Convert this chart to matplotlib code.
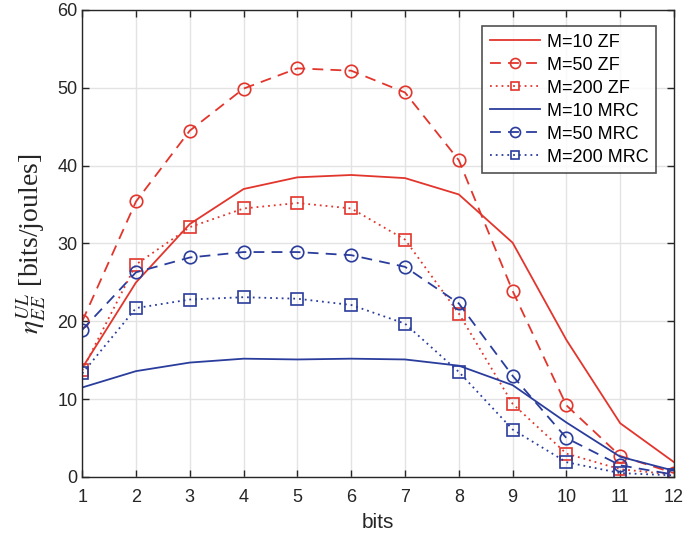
import matplotlib
matplotlib.use("Agg")
import matplotlib.pyplot as plt

bits = [1, 2, 3, 4, 5, 6, 7, 8, 9, 10, 11, 12]
zf10 = [14.0, 25.0, 32.5, 37.0, 38.5, 38.8, 38.4, 36.3, 30.1, 17.6, 6.9, 1.9]
zf50 = [20.0, 35.4, 44.5, 49.9, 52.5, 52.2, 49.4, 40.7, 23.9, 9.2, 2.7, 0.5]
zf200 = [13.7, 27.3, 32.1, 34.5, 35.2, 34.5, 30.5, 21.0, 9.4, 3.0, 1.0, 0.3]
mrc10 = [11.5, 13.6, 14.7, 15.2, 15.1, 15.2, 15.1, 14.3, 11.8, 7.0, 2.6, 0.8]
mrc50 = [18.9, 26.3, 28.2, 28.9, 28.9, 28.5, 27.0, 22.3, 13.0, 5.0, 1.5, 0.3]
mrc200 = [13.3, 21.7, 22.8, 23.1, 22.9, 22.1, 19.7, 13.5, 6.1, 1.9, 0.5, 0.2]
labels = ["M=10 ZF", "M=50 ZF", "M=200 ZF", "M=10 MRC", "M=50 MRC", "M=200 MRC"]

red = "#E2352C"
blue = "#2A3D9C"

plt.rcParams['font.family'] = ['Liberation Sans', 'DejaVu Sans']
plt.rcParams['mathtext.fontset'] = 'stix'

fig = plt.figure(figsize=(6.85, 5.4), dpi=100)
ax = fig.add_axes([0.12, 0.1167, 0.864, 0.8648])

lw = 1.3
ms = 9
ax.plot(bits, zf10, color=red, ls='-', lw=lw, label=labels[0])
ax.plot(bits, zf50, color=red, ls=(0, (6, 4)), lw=lw, marker='o', ms=ms,
        mfc='none', mec=red, mew=1.2, label=labels[1])
ax.plot(bits, zf200, color=red, ls=(0, (1, 2.2)), lw=lw, marker='s', ms=ms-1,
        mfc='none', mec=red, mew=1.2, label=labels[2])
ax.plot(bits, mrc10, color=blue, ls='-', lw=lw, label=labels[3])
ax.plot(bits, mrc50, color=blue, ls=(0, (6, 4)), lw=lw, marker='o', ms=ms,
        mfc='none', mec=blue, mew=1.2, label=labels[4])
ax.plot(bits, mrc200, color=blue, ls=(0, (1, 2.2)), lw=lw, marker='s', ms=ms-1,
        mfc='none', mec=blue, mew=1.2, label=labels[5])

ax.set_xlim(1, 12)
ax.set_ylim(0, 60)
ax.set_xticks(bits)
ax.set_yticks(range(0, 61, 10))
ax.grid(True, color='#e3e3e3', lw=1.0)
ax.set_axisbelow(True)
ax.tick_params(direction='in', labelsize=13, length=5, width=1, colors='#262626',
               top=True, right=True)
ax.tick_params(axis='x', pad=9)
for s in ax.spines.values():
    s.set_color('#262626')
    s.set_linewidth(1.0)

ax.set_xlabel('bits', fontsize=15, color='#262626', labelpad=5)
ax.set_ylabel(r'$\eta_{EE}^{UL}$ [bits/joules]', fontsize=20,
              color='#262626', labelpad=6)
ax.yaxis.label.set_fontfamily(['Liberation Serif', 'DejaVu Serif'])

leg = ax.legend(loc='upper right', fontsize=13, frameon=True, fancybox=False,
                edgecolor='#262626', handlelength=2.8, handletextpad=0.4,
                borderpad=0.4, labelspacing=0.33, markerscale=0.8,
                bbox_to_anchor=(0.985, 0.984))
leg.get_frame().set_linewidth(1.2)

fig.savefig('out.png', dpi=100)
